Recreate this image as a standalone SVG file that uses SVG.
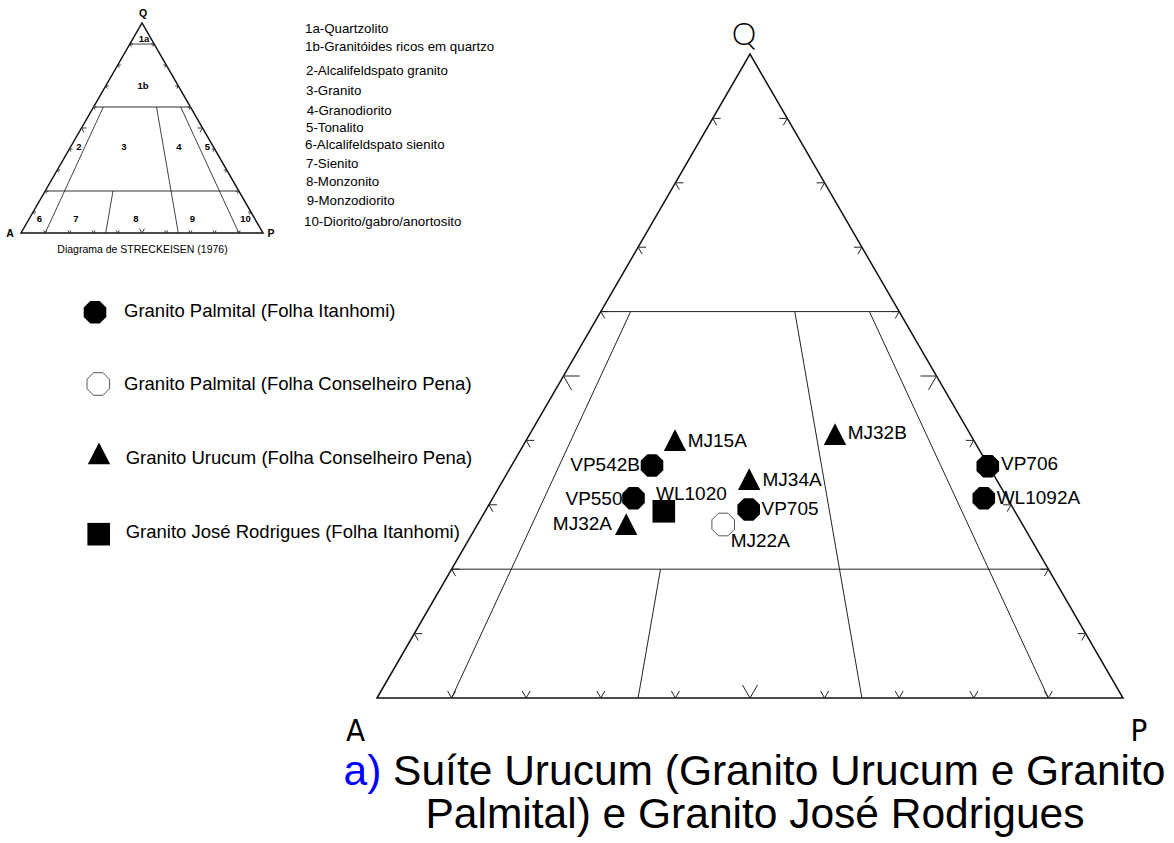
<svg xmlns="http://www.w3.org/2000/svg" width="1174" height="843" viewBox="0 0 1174 843">
<style>
text{font-family:"Liberation Sans",Arial,sans-serif;fill:#000}
.ib{font-weight:bold;font-size:9.5px;text-anchor:middle}
.iq{font-weight:bold;font-size:10.5px;text-anchor:middle}
.lst{font-size:13.3px}
.leg{font-size:18.5px}
.lab{font-size:19px}
.edge{fill:none;stroke:#111;stroke-width:1.5;stroke-linejoin:miter}
.grid{fill:none;stroke:#222;stroke-width:1}
.tick{fill:none;stroke:#222;stroke-width:1}
.iedge{fill:none;stroke:#111;stroke-width:1.5}
.igrey{fill:none;stroke:#777;stroke-width:1.3}
.igrid{fill:none;stroke:#111;stroke-width:0.8}
.itick{fill:none;stroke:#222;stroke-width:0.9}
.fill{fill:#000}
.hollow{fill:#fff;stroke:#555;stroke-width:1}
</style>
<defs>
<polygon id="oct" points="-4.7,-11.3 4.7,-11.3 11.3,-4.7 11.3,4.7 4.7,11.3 -4.7,11.3 -11.3,4.7 -11.3,-4.7"/>
<polygon id="tri" points="0,-11 11.2,10.8 -11.2,10.8"/>
<rect id="sq" x="-11.3" y="-11.3" width="22.6" height="22.6"/>
</defs>
<rect width="1174" height="843" fill="#fff"/>

<!-- Inset Streckeisen diagram -->
<g id="inset">
<path class="iedge" d="M21,233 L142,23 L263,233 Z"/>
<path class="igrey" d="M93.6,107 H190.4 M45.2,191 H238.8"/>
<path class="igrid" d="M129.9,44 H154.1 M103.3,107 L45.2,233 M156.5,107 L178.3,233 M180.7,107 L238.8,233 M113,191 L105.7,233"/>
<path class="itick" d="M33.1,212h3M33.1,212l1.5,2.6 M45.2,191h3M45.2,191l1.5,2.6 M57.3,170h3M57.3,170l1.5,2.6 M69.4,149h3M69.4,149l1.5,2.6 M81.5,128h5M81.5,128l2.5,4.3 M93.6,107h3M93.6,107l1.5,2.6 M105.7,86h3M105.7,86l1.5,2.6 M117.8,65h3M117.8,65l1.5,2.6 M129.9,44h3M129.9,44l1.5,2.6
M250.9,212h-3M250.9,212l-1.5,2.6 M238.8,191h-3M238.8,191l-1.5,2.6 M226.7,170h-3M226.7,170l-1.5,2.6 M214.6,149h-3M214.6,149l-1.5,2.6 M202.5,128h-5M202.5,128l-2.5,4.3 M190.4,107h-3M190.4,107l-1.5,2.6 M178.3,86h-3M178.3,86l-1.5,2.6 M166.2,65h-3M166.2,65l-1.5,2.6 M154.1,44h-3M154.1,44l-1.5,2.6
M43.7,230.4L45.2,233L46.7,230.4 M67.9,230.4L69.4,233L70.9,230.4 M92.1,230.4L93.6,233L95.1,230.4 M116.3,230.4L117.8,233L119.3,230.4 M139.5,228.7L142,233L144.5,228.7 M164.7,230.4L166.2,233L167.7,230.4 M188.9,230.4L190.4,233L191.9,230.4 M213.1,230.4L214.6,233L216.1,230.4 M237.3,230.4L238.8,233L240.3,230.4"/>
<text class="iq" x="143" y="16.5">Q</text>
<text class="iq" x="10" y="237">A</text>
<text class="iq" x="271" y="237">P</text>
<text class="ib" x="144" y="41.5">1a</text>
<text class="ib" x="143" y="88.5">1b</text>
<text class="ib" x="79" y="149.5">2</text>
<text class="ib" x="124" y="149.5">3</text>
<text class="ib" x="179" y="149.5">4</text>
<text class="ib" x="207.5" y="149.5">5</text>
<text class="ib" x="39.5" y="221.5">6</text>
<text class="ib" x="76" y="221.5">7</text>
<text class="ib" x="136" y="221.5">8</text>
<text class="ib" x="192.5" y="221.5">9</text>
<text class="ib" x="245.5" y="221.5">10</text>
<text x="142.5" y="253" font-size="10.5" text-anchor="middle" fill="#222">Diagrama de STRECKEISEN (1976)</text>
</g>

<!-- Field names list -->
<g id="field-list">
<text class="lst" x="305" y="33">1a-Quartzolito</text>
<text class="lst" x="305" y="51">1b-Granitóides ricos em quartzo</text>
<text class="lst" x="306" y="75">2-Alcalifeldspato granito</text>
<text class="lst" x="306" y="94.5">3-Granito</text>
<text class="lst" x="306.7" y="114.5">4-Granodiorito</text>
<text class="lst" x="306" y="131.5">5-Tonalito</text>
<text class="lst" x="305" y="148.5">6-Alcalifeldspato sienito</text>
<text class="lst" x="306" y="167.5">7-Sienito</text>
<text class="lst" x="306" y="185.5">8-Monzonito</text>
<text class="lst" x="306.7" y="205">9-Monzodiorito</text>
<text class="lst" x="304" y="225.5">10-Diorito/gabro/anortosito</text>
</g>

<!-- Symbol legend -->
<g id="legend-palmital-itanhomi"><use href="#oct" class="fill" x="95" y="312.3"/><text class="leg" x="124" y="317.3">Granito Palmital (Folha Itanhomi)</text></g>
<g id="legend-palmital-cpena"><use href="#oct" class="hollow" x="98.3" y="384"/><text class="leg" x="124" y="390">Granito Palmital (Folha Conselheiro Pena)</text></g>
<g id="legend-urucum"><use href="#tri" class="fill" x="99" y="453.5"/><text class="leg" x="125.7" y="464">Granito Urucum (Folha Conselheiro Pena)</text></g>
<g id="legend-jose"><use href="#sq" class="fill" x="98.7" y="534.2"/><text class="leg" x="125.7" y="538.3">Granito José Rodrigues (Folha Itanhomi)</text></g>

<!-- Main QAP triangle -->
<g id="connectors">
<path class="edge" d="M377,698 L750,54 L1123,698 Z"/>
<path class="grid" d="M600.8,311.6 H899.2 M451.6,569.2 H1048.4 M630.6,311.6 L451.6,698 M794.8,311.6 L861.9,698 M869.4,311.6 L1048.4,698 M660.5,569.2 L638.1,698"/>
<path class="tick" d="M414.3,633.6h8M414.3,633.6l4,6.9 M451.6,569.2h8M451.6,569.2l4,6.9 M488.9,504.8h8M488.9,504.8l4,6.9 M526.2,440.4h8M526.2,440.4l4,6.9 M563.5,376h16M563.5,376l8,13.9 M600.8,311.6h8M600.8,311.6l4,6.9 M638.1,247.2h8M638.1,247.2l4,6.9 M675.4,182.8h8M675.4,182.8l4,6.9 M712.7,118.4h8M712.7,118.4l4,6.9
M1085.7,633.6h-8M1085.7,633.6l-4,6.9 M1048.4,569.2h-8M1048.4,569.2l-4,6.9 M1011.1,504.8h-8M1011.1,504.8l-4,6.9 M973.8,440.4h-8M973.8,440.4l-4,6.9 M936.5,376h-16M936.5,376l-8,13.9 M899.2,311.6h-8M899.2,311.6l-4,6.9 M861.9,247.2h-8M861.9,247.2l-4,6.9 M824.6,182.8h-8M824.6,182.8l-4,6.9 M787.3,118.4h-8M787.3,118.4l-4,6.9
M447.6,691L451.6,698L455.6,691 M522.2,691L526.2,698L530.2,691 M596.8,691L600.8,698L604.8,691 M671.4,691L675.4,698L679.4,691 M742.5,685L750,698L757.5,685 M820.6,691L824.6,698L828.6,691 M895.2,691L899.2,698L903.2,691 M969.8,691L973.8,698L977.8,691 M1044.4,691L1048.4,698L1052.4,691"/>
</g>

<g id="axis-labels">
<text x="744" y="45" font-size="31" text-anchor="middle" fill="#111" style="font-family:Lato,'Liberation Sans',sans-serif;font-weight:300">Q</text>
<text x="355.5" y="740.5" style="font-family:'DejaVu Sans',sans-serif;font-stretch:condensed" font-size="31" text-anchor="middle">A</text>
<text x="1139" y="740.5" style="font-family:'DejaVu Sans',sans-serif;font-stretch:condensed" font-size="31" text-anchor="middle">P</text>
</g>

<!-- Samples -->
<g id="MJ15A"><use href="#tri" class="fill" x="675" y="440.2"/><text class="lab" x="687.7" y="446.8">MJ15A</text></g>
<g id="VP542B"><use href="#oct" class="fill" x="652" y="465.5"/><text class="lab" x="640" y="471" text-anchor="end">VP542B</text></g>
<g id="VP550"><use href="#oct" class="fill" x="633.5" y="498.2"/><text class="lab" x="622.5" y="505" text-anchor="end">VP550</text></g>
<g id="WL1020"><use href="#sq" class="fill" x="663.8" y="511.3"/><text class="lab" x="656" y="499.5">WL1020</text></g>
<g id="MJ32A"><use href="#tri" class="fill" x="626.2" y="524.2"/><text class="lab" x="612" y="529.5" text-anchor="end">MJ32A</text></g>
<g id="MJ34A"><use href="#tri" class="fill" x="749.2" y="479.2"/><text class="lab" x="762.5" y="485.8">MJ34A</text></g>
<g id="VP705"><use href="#oct" class="fill" x="748.7" y="509.5"/><text class="lab" x="761.5" y="515">VP705</text></g>
<g id="MJ22A"><use href="#oct" class="hollow" x="723.2" y="524.5"/><text class="lab" x="730.7" y="546.8">MJ22A</text></g>
<g id="MJ32B"><use href="#tri" class="fill" x="835" y="434.2"/><text class="lab" x="847.7" y="439">MJ32B</text></g>
<g id="VP706"><use href="#oct" class="fill" x="987.8" y="466.2"/><text class="lab" x="1001" y="470">VP706</text></g>
<g id="WL1092A"><use href="#oct" class="fill" x="983.8" y="498.3"/><text class="lab" x="996.7" y="504">WL1092A</text></g>

<!-- Caption -->
<g id="caption">
<text x="754.5" y="785" font-size="42.5" text-anchor="middle"><tspan fill="#0000ff">a)</tspan> Suíte Urucum (Granito Urucum e Granito</text>
<text x="755" y="828" font-size="42.5" text-anchor="middle">Palmital) e Granito José Rodrigues</text>
</g>
</svg>
